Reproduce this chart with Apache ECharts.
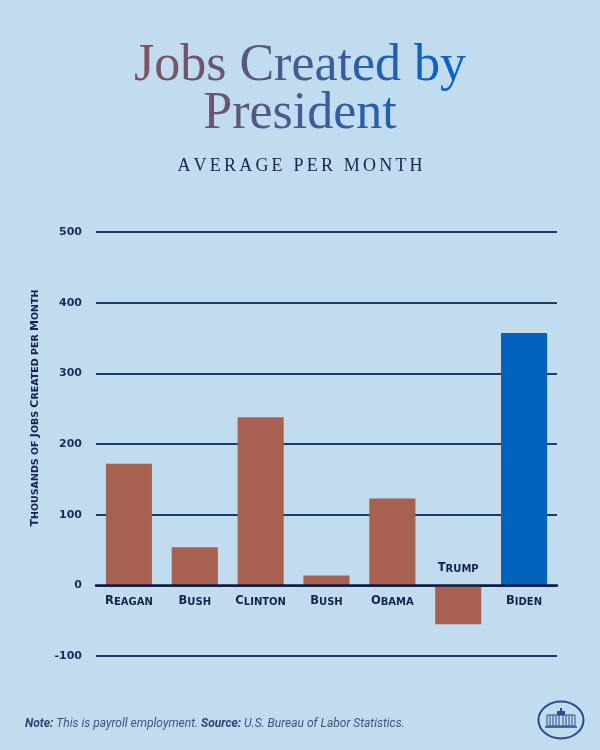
<!DOCTYPE html>
<html><head><meta charset="utf-8">
<script src="https://cdn.jsdelivr.net/npm/echarts@6/dist/echarts.min.js"></script>
<style>html,body{margin:0;padding:0;background:#c1dcee}#c{width:600px;height:750px}</style>
</head><body><div id="c"></div>
<script>
const presidents = ['Reagan', 'Bush', 'Clinton', 'Bush', 'Obama', 'Trump', 'Biden'];
const jobsPerMonth = [172, 54, 238, 14, 123, -55, 357];
const barColors = ['#a86150', '#a86150', '#a86150', '#a86150', '#a86150', '#a86150', '#0062bb'];
const yMin = -100, yMax = 500, yStep = 100;
const titleLine1 = 'Jobs Created by';
const titleLine2 = 'President';
const subtitle = 'AVERAGE PER MONTH';
const yAxisName = 'Thousands of Jobs Created per Month';

const navy = '#16224c';
const gridTop = 232, gridBottom = 94, chartH = 750;
const plotH = chartH - gridTop - gridBottom;

function smallCaps(str) {
  let out = '', cur = null, buf = '';
  for (const ch of str) {
    const t = (ch !== ' ' && ch === ch.toUpperCase()) ? 'b' : 's';
    if (t !== cur) { if (buf) out += '{' + cur + '|' + buf + '}'; buf = ''; cur = t; }
    buf += ch.toUpperCase();
  }
  if (buf) out += '{' + cur + '|' + buf + '}';
  return out;
}
function scRich(big, small) {
  const base = {fontFamily: 'DejaVu Sans', fontWeight: 'bold', color: navy, verticalAlign: 'bottom'};
  return {b: Object.assign({fontSize: big}, base), s: Object.assign({fontSize: small}, base)};
}
function hex2rgb(h) { return [1, 3, 5].map(i => parseInt(h.substr(i, 2), 16)); }
function mix(a, b, t) {
  const A = hex2rgb(a), B = hex2rgb(b);
  return 'rgb(' + A.map((v, i) => Math.round(v + (B[i] - v) * t)).join(',') + ')';
}
// per-character horizontal colour ramp (emulates the gradient-filled heading)
function gradientText(str, c0, c1, t0, t1, style) {
  const rich = {}; let text = '';
  const n = str.length;
  [...str].forEach((ch, i) => {
    const t = t0 + (t1 - t0) * (n > 1 ? i / (n - 1) : 0);
    rich['c' + i] = Object.assign({color: mix(c0, c1, t)}, style);
    text += '{c' + i + '|' + ch + '}';
  });
  return {text, rich};
}
function spaced(str, gap, style) {
  const rich = {k: Object.assign({padding: [0, gap, 0, 0]}, style), e: style};
  let text = '';
  [...str].forEach((ch, i) => { text += '{' + (i < str.length - 1 ? 'k' : 'e') + '|' + ch + '}'; });
  return {text, rich};
}
const tStyle = {fontFamily: 'Liberation Serif', fontWeight: 'normal', fontSize: 52};
const t1 = gradientText(titleLine1, '#80535f', '#0962c6', 0, 1, tStyle);
const t2 = gradientText(titleLine2, '#80535f', '#0962c6', 0.2, 0.8, tStyle);
const sub = spaced(subtitle, 3.2, {fontFamily: 'Liberation Serif', fontWeight: 'normal', fontSize: 18, color: '#17244f'});

const chart = echarts.init(document.getElementById('c'), null, {renderer: 'canvas'});
chart.setOption({
  backgroundColor: '#c1dcee',
  animation: false,
  title: [
    {text: t1.text, left: 'center', top: 35, textStyle: {fontSize: 52, fontWeight: 'normal', rich: t1.rich}},
    {text: t2.text, left: 'center', top: 83, textStyle: {fontSize: 52, fontWeight: 'normal', rich: t2.rich}},
    {text: sub.text, left: 'center', top: 152, textStyle: {fontSize: 18, fontWeight: 'normal', rich: sub.rich}},
    {text: '{b|Note:}{i| This is payroll employment. }{b|Source:}{i| U.S. Bureau of Labor Statistics.}',
     left: 20, top: 713,
     textStyle: {rich: {
       b: {fontFamily: 'Roboto', fontStyle: 'italic', fontWeight: 'bold', fontSize: 12, color: '#2f4476'},
       i: {fontFamily: 'Roboto', fontStyle: 'italic', fontWeight: 'normal', fontSize: 12, color: '#3d5386'}
     }}}
  ],
  grid: {left: 96, right: 43, top: gridTop, bottom: gridBottom, containLabel: false},
  xAxis: {
    type: 'category', data: presidents, z: 3,
    axisLine: {onZero: false, lineStyle: {color: '#0f1c46', width: 2.5}},
    offset: -(0 - yMin) / (yMax - yMin) * plotH,
    axisTick: {show: false},
    axisLabel: {margin: 10, interval: 0,
      formatter: (v, i) => jobsPerMonth[i] < 0 ? '' : smallCaps(v),
      rich: scRich(11.5, 10)}
  },
  yAxis: {
    type: 'value', min: yMin, max: yMax, interval: yStep,
    axisLine: {show: false}, axisTick: {show: false},
    axisLabel: {margin: 14, fontFamily: 'DejaVu Sans', fontWeight: 'bold', fontSize: 11, color: '#1b2a58'},
    splitLine: {lineStyle: {color: '#22396b', width: 2}},
    name: smallCaps(yAxisName), nameLocation: 'middle', nameGap: 55,
    nameTextStyle: {padding: [0, 0, 0, 72], rich: scRich(11, 9.5)}
  },
  series: [{
    type: 'bar', barWidth: '70%',
    data: jobsPerMonth.map((v, i) => ({
      value: v,
      itemStyle: {color: barColors[i]},
      label: v < 0 ? {show: true, position: 'top', distance: 11,
        formatter: () => smallCaps(presidents[i]), rich: scRich(11.5, 10)} : {show: false}
    }))
  }],
  graphic: [{
    type: 'group', x: 538, y: 701,
    children: [
      {type: 'ellipse', shape: {cx: 23, cy: 19, rx: 22.5, ry: 18.5}, style: {fill: 'none', stroke: '#2c4b8a', lineWidth: 2}},
      {type: 'rect', shape: {x: 9, y: 14, width: 28, height: 11}, style: {fill: 'none', stroke: '#2c4b8a', lineWidth: 1}},
      {type: 'rect', shape: {x: 19, y: 10, width: 8, height: 4}, style: {fill: '#2c4b8a'}},
      {type: 'rect', shape: {x: 22, y: 7, width: 2, height: 3}, style: {fill: '#2c4b8a'}},
      {type: 'line', shape: {x1: 12, y1: 14, x2: 12, y2: 25}, style: {stroke: '#2c4b8a', lineWidth: 1}},
      {type: 'line', shape: {x1: 15, y1: 14, x2: 15, y2: 25}, style: {stroke: '#2c4b8a', lineWidth: 1}},
      {type: 'line', shape: {x1: 18, y1: 14, x2: 18, y2: 25}, style: {stroke: '#2c4b8a', lineWidth: 1}},
      {type: 'line', shape: {x1: 21, y1: 14, x2: 21, y2: 25}, style: {stroke: '#2c4b8a', lineWidth: 1}},
      {type: 'line', shape: {x1: 25, y1: 14, x2: 25, y2: 25}, style: {stroke: '#2c4b8a', lineWidth: 1}},
      {type: 'line', shape: {x1: 28, y1: 14, x2: 28, y2: 25}, style: {stroke: '#2c4b8a', lineWidth: 1}},
      {type: 'line', shape: {x1: 31, y1: 14, x2: 31, y2: 25}, style: {stroke: '#2c4b8a', lineWidth: 1}},
      {type: 'line', shape: {x1: 34, y1: 14, x2: 34, y2: 25}, style: {stroke: '#2c4b8a', lineWidth: 1}},
      {type: 'line', shape: {x1: 7, y1: 26, x2: 39, y2: 26}, style: {stroke: '#2c4b8a', lineWidth: 1.5}}
    ]
  }]
});
</script></body></html>
